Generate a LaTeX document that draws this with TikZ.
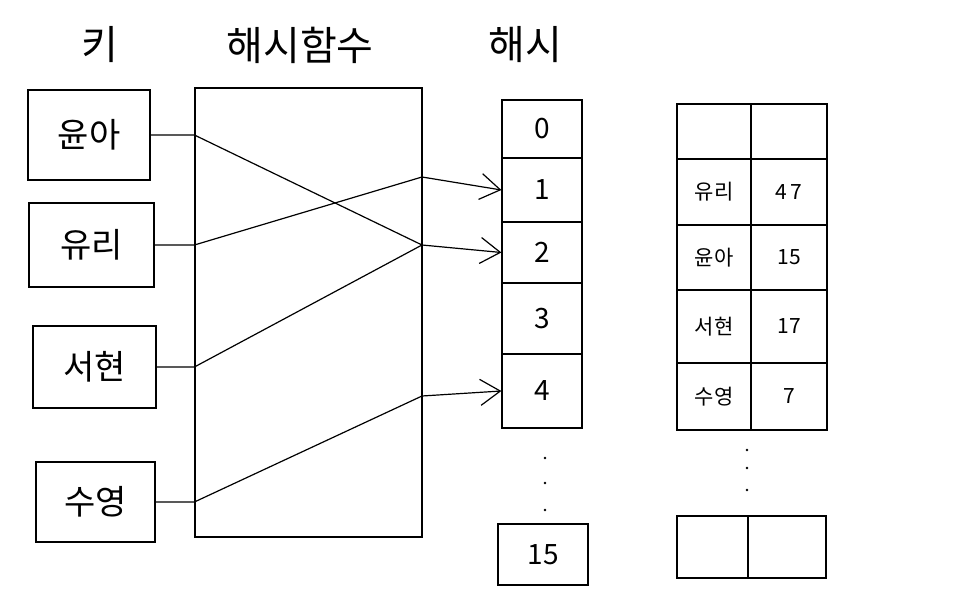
\documentclass[tikz,border=0pt]{standalone}
\usepackage{fontspec}
\setmainfont{Noto Sans CJK KR}
\usetikzlibrary{arrows.meta,positioning}

\begin{document}
\begin{tikzpicture}[x=1pt,y=-1pt,line width=1.2pt,
        keybox/.style={draw,minimum width=122pt,minimum height=86pt,font=\fontsize{34}{34}\selectfont},
        cell/.style={draw,minimum width=80pt,inner sep=0pt,font=\fontsize{28}{28}\selectfont},
        tcell/.style={draw,inner sep=0pt,font=\fontsize{21}{21}\selectfont},
        title/.style={font=\fontsize{40}{40}\selectfont},
        hasharrow/.style={-{Straight Barb[length=20pt,width=26pt]}}]
        \useasboundingbox (0,0) rectangle (954,596);
        \node[title] (keytitle) at (100,45) {키};
        \node[title] (hftitle) at (300,45) {해시함수};
        \node[title] (hashtitle) at (525,45) {해시};
        % keys
        \node[keybox,minimum height=90pt] (k1) at (89,135) {윤아};
        \node[keybox,minimum width=125pt,minimum height=84pt] (k2) at (91.5,245) {유리};
        \node[keybox,minimum width=123pt,minimum height=82pt] (k3) at (94.5,367) {서현};
        \node[keybox,minimum width=119pt,minimum height=80pt] (k4) at (95.5,502) {수영};
        % hash function
        \node[draw,minimum width=227pt,minimum height=449pt] (hf) at (308.5,312.5) {};
        % hash buckets
        \foreach \n/\a/\b in {0/100/158,1/158/222,2/222/283,3/283/354,4/354/428}
            \node[cell,minimum height={(\b-\a)*1pt}] (h\n) at (542,{(\a+\b)/2}) {\n};
        \foreach \y in {458,483,510} \fill (545,\y) circle (1.3);
        \node[cell,minimum width=90pt,minimum height=61pt] (h15) at (543,554.5) {15};
        % table
        \foreach \n/\a/\b/\name/\val in {0/104/159//,1/159/225/유리/4\,7,2/225/290/윤아/15,3/290/363/서현/17,4/363/430/수영/7}{
            \node[tcell,minimum width=74pt,minimum height={(\b-\a)*1pt}] (tk\n) at (714,{(\a+\b)/2}) {\name};
            \node[tcell,minimum width=76pt,minimum height={(\b-\a)*1pt}] (tv\n) at (789,{(\a+\b)/2}) {\val};
        }
        \foreach \y in {450,468,490} \fill (747,\y) circle (1.3);
        \node[tcell,minimum width=71pt,minimum height=62pt] (tk15) at (712.5,547) {};
        \node[tcell,minimum width=78pt,minimum height=62pt] (tv15) at (787,547) {};
        % connectors
        \coordinate (o1) at (422,177);
        \coordinate (o2) at (422,245);
        \coordinate (o4) at (422,396);
        \draw (k1.east) -- (k1.east -| hf.west) -- (o2);
        \draw (k2.east) -- (k2.east -| hf.west) -- (o1);
        \draw (k3.east) -- (k3.east -| hf.west) -- (o2);
        \draw (k4.east) -- (k4.east -| hf.west) -- (o4);
        \draw[hasharrow] (o1) -- (h1.west);
        \draw[hasharrow] (o2) -- (h2.west);
        \draw[hasharrow] (o4) -- (h4.west);
    \end{tikzpicture}
\end{document}
